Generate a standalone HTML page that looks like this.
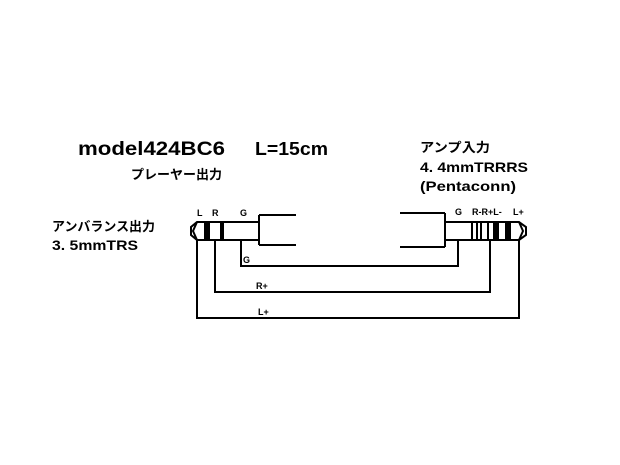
<!DOCTYPE html>
<html><head><meta charset="utf-8"><style>
html,body{margin:0;padding:0;background:#fff;}
svg{display:block;}
text{font-family:"Liberation Sans","Noto Sans CJK JP",sans-serif;font-weight:bold;fill:#000;}
</style></head><body>
<svg width="620" height="465" viewBox="0 0 620 465" xmlns="http://www.w3.org/2000/svg">
<rect width="620" height="465" fill="#fff"/>
<text x="78" y="155" font-size="19" textLength="147" lengthAdjust="spacingAndGlyphs">model424BC6</text>
<text x="255" y="155" font-size="18" textLength="73" lengthAdjust="spacingAndGlyphs">L=15cm</text>
<text x="131" y="179" font-size="13" textLength="91" lengthAdjust="spacingAndGlyphs">プレーヤー出力</text>
<text x="420" y="152" font-size="13" textLength="70" lengthAdjust="spacingAndGlyphs">アンプ入力</text>
<text x="420" y="172" font-size="14" textLength="108" lengthAdjust="spacingAndGlyphs">4. 4mmTRRRS</text>
<text x="420" y="191" font-size="14" textLength="96" lengthAdjust="spacingAndGlyphs">(Pentaconn)</text>
<text x="52" y="231" font-size="13" textLength="103" lengthAdjust="spacingAndGlyphs">アンバランス出力</text>
<text x="52" y="250" font-size="14" textLength="86" lengthAdjust="spacingAndGlyphs">3. 5mmTRS</text>
<g font-size="9">
<text x="197" y="216">L</text><text x="212" y="216">R</text><text x="240" y="216">G</text>
<text x="455" y="215">G</text><text x="472" y="215">R-R+L-</text><text x="513" y="215">L+</text>
<text x="243" y="263">G</text><text x="256" y="289">R+</text><text x="258" y="315">L+</text>
</g>
<g stroke="#000" stroke-width="2" fill="none">
<path d="M205 222 H259 V240 H205"/>
<path d="M259 215 H296 M259 245 H296 M259 215 V245"/>
<path d="M205 222 H197 L191 227 V235 L197 240 H205 M197 222 L193 231 L197 240"/>
<line x1="205" y1="222" x2="205" y2="240"/>
<path d="M512 222 H445 V240 H512"/>
<path d="M400 213 H445 M400 247 H445 M445 213 V247"/>
<path d="M512 222 H519 L526 227 V235 L519 240 H512 M519 222 L523 231 L519 240"/>
<path d="M197 240 V318 H519 V240"/>
<path d="M215 240 V292 H490 V240"/>
<path d="M241 240 V266 H458 V240"/>
</g>
<g fill="#000">
<rect x="206" y="222" width="4" height="18"/>
<rect x="220" y="222" width="4" height="18"/>
<rect x="471" y="222" width="2" height="18"/><rect x="476" y="222" width="2" height="18"/><rect x="480" y="222" width="2" height="18"/>
<rect x="487" y="222" width="2" height="18"/>
<rect x="493" y="222" width="6" height="18"/>
<rect x="505" y="222" width="6" height="18"/>
</g>
</svg>
</body></html>
